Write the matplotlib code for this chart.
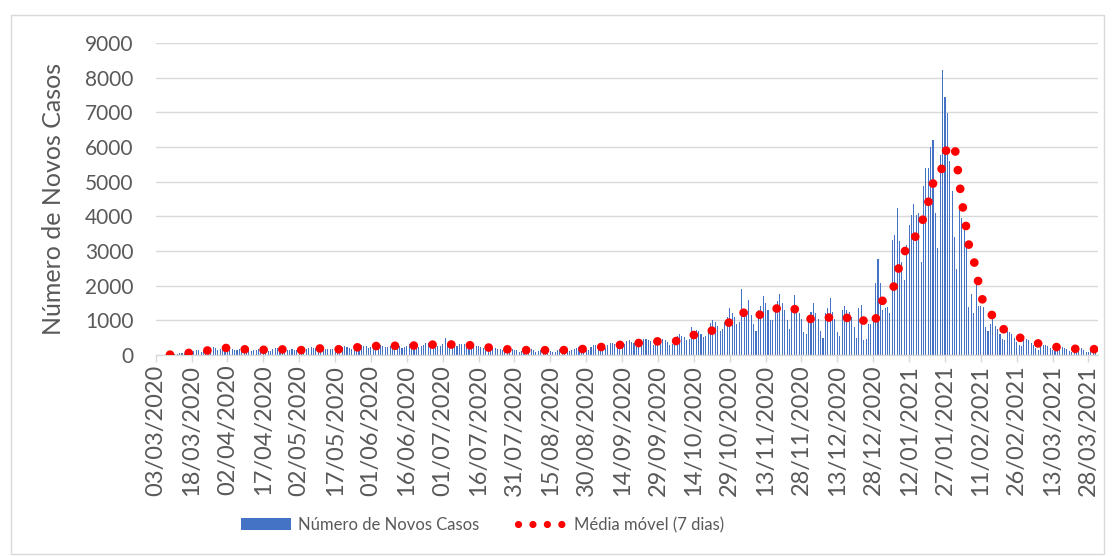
import numpy as np
import pandas as pd
import matplotlib
matplotlib.use("Agg")
import matplotlib.pyplot as plt
from matplotlib.lines import Line2D
from matplotlib.patches import Patch, Rectangle

plt.rcParams['font.family'] = ['Lato', 'DejaVu Sans']

# dados diarios, 03/03/2020 a 31/03/2021 (uma linha = uma semana, ter..seg)
novos_casos = [
    2, 3, 5, 8, 10, 15, 20,
    25, 35, 40, 50, 60, 70, 80,
    95, 120, 110, 140, 130, 100, 110,
    150, 190, 210, 230, 200, 150, 170,
    220, 240, 200, 190, 170, 130, 150,
    160, 180, 170, 160, 150, 120, 140,
    150, 160, 170, 150, 130, 110, 120,
    170, 200, 190, 180, 160, 130, 150,
    140, 160, 150, 140, 130, 120, 130,
    180, 210, 230, 200, 190, 150, 170,
    160, 180, 170, 170, 160, 140, 150,
    200, 240, 250, 230, 210, 180, 190,
    240, 280, 290, 270, 250, 210, 230,
    260, 300, 310, 290, 270, 220, 240,
    250, 290, 300, 280, 260, 210, 230,
    270, 310, 320, 300, 290, 240, 250,
    290, 340, 350, 330, 300, 250, 270,
    270, 310, 480, 290, 260, 200, 220,
    270, 320, 330, 310, 280, 230, 240,
    220, 250, 260, 240, 210, 160, 180,
    170, 200, 190, 180, 160, 130, 140,
    140, 160, 170, 150, 130, 100, 110,
    150, 170, 180, 160, 140, 100, 120,
    130, 150, 160, 140, 120, 90, 100,
    150, 180, 190, 170, 150, 110, 130,
    180, 210, 220, 200, 170, 130, 150,
    230, 280, 300, 270, 240, 180, 200,
    290, 340, 360, 330, 290, 220, 240,
    330, 400, 420, 380, 340, 260, 290,
    380, 450, 470, 430, 400, 300, 330,
    370, 440, 460, 420, 380, 280, 310,
    450, 560, 600, 560, 520, 420, 450,
    800, 700, 720, 680, 620, 520, 560,
    750, 910, 1010, 950, 850, 700, 750,
    950, 1105, 1345, 1200, 1100, 900, 950,
    1895, 1150, 1200, 1585, 1150, 900, 700,
    1300, 1400, 1700, 1490, 1300, 1000, 1000,
    1400, 1550, 1760, 1500, 1300, 1000, 750,
    1300, 1730, 1350, 1200, 1050, 650, 600,
    1100, 1250, 1490, 1200, 1050, 700, 500,
    1200, 1350, 1635, 1250, 1050, 650, 550,
    1300, 1400, 1300, 1250, 1100, 800, 500,
    1350, 1440, 430, 460, 900, 900, 1000,
    2085, 2780, 2090, 1300, 1350, 1395, 1200,
    3315, 3460, 4250, 3300, 2690, 2165, 3170,
    3750, 4040, 4355, 4040, 4085, 2690, 4880,
    5400, 5380, 5990, 6200, 4105, 3080, 5770,
    8220, 7430, 6970, 5600, 4740, 3415, 2470,
    4200, 3940, 3605, 3125, 1395, 1750, 1200,
    2070, 1400, 1400, 1395, 800, 700, 900,
    1100, 850, 750, 600, 450, 420, 700,
    650, 600, 500, 380, 300, 250, 480,
    450, 420, 350, 280, 200, 150, 350,
    300, 280, 250, 200, 150, 110, 280,
    260, 230, 200, 160, 110, 80, 230,
    220, 200, 190, 150, 100, 90, 220,
    230, 200,
]

datas_ticks = ["03/03/2020", "18/03/2020", "02/04/2020", "17/04/2020", "02/05/2020",
               "17/05/2020", "01/06/2020", "16/06/2020", "01/07/2020", "16/07/2020",
               "31/07/2020", "15/08/2020", "30/08/2020", "14/09/2020", "29/09/2020",
               "14/10/2020", "29/10/2020", "13/11/2020", "28/11/2020", "13/12/2020",
               "28/12/2020", "12/01/2021", "27/01/2021", "11/02/2021", "26/02/2021",
               "13/03/2021", "28/03/2021"]

# media movel de 7 dias
media_movel = pd.Series(novos_casos).rolling(7).mean()
dias = np.arange(len(novos_casos))

cinza = '#d9d9d9'
texto = '#595959'

fig = plt.figure(figsize=(11.15, 5.56), dpi=100)
ax = fig.add_axes([0.1396, 0.3615, 0.8452, 0.5612])

ax.bar(dias, novos_casos, width=0.45, color='#4472C4', linewidth=0, zorder=2)
ax.plot(dias, media_movel, color='#FF0000', lw=6.3, linestyle=(0, (0.001, 2.15)),
        dash_capstyle='round', zorder=3)

ax.set_xlim(0, 394)
ax.set_ylim(0, 9000)
ax.set_yticks(np.arange(0, 9001, 1000))
ax.set_xticks(np.arange(0, 391, 15))
ax.set_xticklabels(datas_ticks, rotation=90)
ax.grid(axis='y', color=cinza, lw=1.0, zorder=0)
ax.set_axisbelow(True)

for s in ['left', 'right', 'top']:
    ax.spines[s].set_visible(False)
ax.spines['bottom'].set_color(cinza)
ax.spines['bottom'].set_linewidth(1.0)

ax.tick_params(axis='y', length=0, pad=16, labelsize=15, labelcolor=texto)
ax.tick_params(axis='x', length=5, width=1.0, color=cinza, pad=2, labelsize=17, labelcolor=texto)

ax.set_ylabel("Número de Novos Casos", fontsize=18, color=texto, labelpad=14)

# legenda
h1 = Patch(facecolor='#4472C4', edgecolor='none')
h2 = Line2D([], [], color='#FF0000', lw=5.2, linestyle=(0, (0.001, 2.0)), dash_capstyle='round')
fig.legend([h1, h2], ["Número de Novos Casos", "Média móvel (7 dias)"],
           loc='center', bbox_to_anchor=(0.433, 0.0558), ncol=2, frameon=False,
           fontsize=12, labelcolor=texto, handlelength=3.0, handletextpad=0.4,
           columnspacing=2.3)

# moldura do grafico
fig.patches.append(Rectangle((11 / 1115, 1 - 554 / 556), 1093 / 1115, 539 / 556,
                             transform=fig.transFigure, fill=False, edgecolor=cinza, lw=1.0))

fig.savefig("out.png", dpi=100)
